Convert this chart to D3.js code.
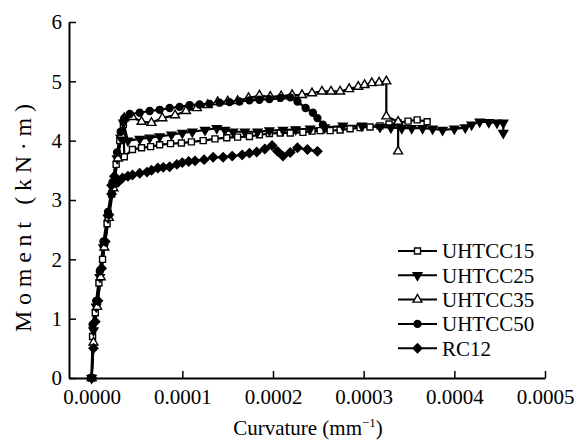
<!DOCTYPE html>
<html>
<head>
<meta charset="utf-8">
<script src="https://cdn.jsdelivr.net/npm/d3@7"></script>
<style>
  body { margin: 0; background: #fff; }
  svg { display: block; font-family: "Liberation Serif", "Times New Roman", serif; }
</style>
</head>
<body>
<div id="chart"></div>
<script>
// curvature (mm^-1) and moment (kN·m)
let uhtcc15Curv = [0, 0.000001, 0.000004, 0.000008, 0.000012, 0.000017, 0.000022, 0.000027, 0.000031, 0.000035, 0.000036, 0.000045, 0.000055, 0.000065, 0.000075, 0.000087, 0.000099, 0.000110, 0.000123, 0.000136, 0.000149, 0.000161, 0.000174, 0.000185, 0.000196, 0.000208, 0.000219, 0.000233, 0.000243, 0.000252, 0.000263, 0.000274, 0.000285, 0.000296, 0.000307, 0.000318, 0.000328, 0.000338, 0.000349, 0.000359, 0.000370];
let uhtcc15Moment = [0, 0.7, 1.1, 1.6, 2.0, 2.6, 3.1, 3.6, 4.0, 4.27, 3.73, 3.85, 3.88, 3.9, 3.93, 3.95, 3.96, 3.98, 4.0, 4.03, 4.05, 4.06, 4.07, 4.1, 4.12, 4.13, 4.13, 4.14, 4.16, 4.17, 4.17, 4.18, 4.2, 4.22, 4.23, 4.25, 4.28, 4.3, 4.33, 4.35, 4.32];

let uhtcc25Curv = [0, 0.000002, 0.000005, 0.000009, 0.000013, 0.000018, 0.000023, 0.000028, 0.000032, 0.000035, 0.000040, 0.000053, 0.000064, 0.000075, 0.000088, 0.000100, 0.000111, 0.000125, 0.000138, 0.000147, 0.000156, 0.000169, 0.000183, 0.000196, 0.000211, 0.000225, 0.000241, 0.000257, 0.000277, 0.000298, 0.000318, 0.000330, 0.000342, 0.000353, 0.000365, 0.000376, 0.000387, 0.000400, 0.000412, 0.000419, 0.000428, 0.000438, 0.000447, 0.000454, 0.000454];
let uhtcc25Moment = [0, 0.8, 1.2, 1.7, 2.2, 2.7, 3.2, 3.7, 4.05, 4.3, 4.0, 4.03, 4.05, 4.07, 4.1, 4.13, 4.15, 4.18, 4.21, 4.18, 4.15, 4.15, 4.15, 4.17, 4.18, 4.19, 4.2, 4.22, 4.25, 4.25, 4.23, 4.22, 4.21, 4.21, 4.21, 4.2, 4.18, 4.2, 4.22, 4.27, 4.32, 4.31, 4.3, 4.3, 4.13];

let uhtcc35Curv = [0, 0.000002, 0.000006, 0.00001, 0.000014, 0.000019, 0.000024, 0.000029, 0.000033, 0.000036, 0.000045, 0.000055, 0.000066, 0.000078, 0.000092, 0.000104, 0.000116, 0.000128, 0.000139, 0.000150, 0.000161, 0.000173, 0.000185, 0.000197, 0.000209, 0.000221, 0.000232, 0.000243, 0.000254, 0.000264, 0.000274, 0.000284, 0.000294, 0.000301, 0.000309, 0.000317, 0.000325, 0.000325, 0.000338, 0.000338];
let uhtcc35Moment = [0, 0.6, 1.2, 1.7, 2.2, 2.7, 3.2, 3.7, 4.1, 4.38, 4.4, 4.32, 4.3, 4.38, 4.43, 4.5, 4.55, 4.6, 4.65, 4.66, 4.67, 4.72, 4.76, 4.74, 4.75, 4.77, 4.77, 4.8, 4.83, 4.83, 4.83, 4.87, 4.91, 4.94, 4.97, 4.98, 5.0, 4.41, 4.32, 3.82];

let uhtcc50Curv = [0, 0.000001, 0.000005, 0.000009, 0.000013, 0.000018, 0.000023, 0.000028, 0.000032, 0.000036, 0.000042, 0.000053, 0.000064, 0.000075, 0.000086, 0.000097, 0.000108, 0.000119, 0.000130, 0.000141, 0.000152, 0.000163, 0.000174, 0.000185, 0.000196, 0.000208, 0.000219, 0.000227, 0.000236, 0.000244, 0.000249, 0.000255];
let uhtcc50Moment = [0, 0.9, 1.3, 1.8, 2.3, 2.8, 3.3, 3.8, 4.15, 4.38, 4.45, 4.47, 4.5, 4.52, 4.55, 4.57, 4.6, 4.61, 4.62, 4.64, 4.65, 4.66, 4.68, 4.69, 4.7, 4.72, 4.73, 4.66, 4.55, 4.47, 4.38, 4.27];

let rc12Curv = [0, 0.000002, 0.000004, 0.000007, 0.000011, 0.000015, 0.000019, 0.000022, 0.000025, 0.000022, 0.000029, 0.000034, 0.000040, 0.000045, 0.000053, 0.000061, 0.000066, 0.000073, 0.000079, 0.000086, 0.000094, 0.000100, 0.000107, 0.000114, 0.000124, 0.000134, 0.000145, 0.000155, 0.000166, 0.000174, 0.000182, 0.000191, 0.000199, 0.000205, 0.000211, 0.000219, 0.000227, 0.000238, 0.000249];
let rc12Moment = [0, 0.5, 0.95, 1.3, 1.85, 2.3, 2.75, 3.1, 3.4, 3.25, 3.3, 3.37, 3.4, 3.42, 3.45, 3.47, 3.5, 3.54, 3.55, 3.56, 3.6, 3.63, 3.65, 3.66, 3.68, 3.72, 3.72, 3.74, 3.76, 3.79, 3.81, 3.86, 3.92, 3.82, 3.74, 3.8, 3.88, 3.85, 3.82];

let seriesNames = ["UHTCC15", "UHTCC25", "UHTCC35", "UHTCC50", "RC12"];
let xTicks = [0, 0.0001, 0.0002, 0.0003, 0.0004, 0.0005];
let yTicks = [0, 1, 2, 3, 4, 5, 6];

function zip(xs, ys) {
    return xs.map(function (x, i) { return { x: x, y: ys[i] }; });
}

let series = [
    { name: seriesNames[0], marker: "square", data: zip(uhtcc15Curv, uhtcc15Moment) },
    { name: seriesNames[1], marker: "down", data: zip(uhtcc25Curv, uhtcc25Moment) },
    { name: seriesNames[2], marker: "up", data: zip(uhtcc35Curv, uhtcc35Moment) },
    { name: seriesNames[3], marker: "circle", data: zip(uhtcc50Curv, uhtcc50Moment) },
    { name: seriesNames[4], marker: "diamond", data: zip(rc12Curv, rc12Moment) }
];

let svg = d3.select("#chart").append("svg")
    .attr("width", 579)
    .attr("height", 443);

let plotLeft = 69, plotRight = 545, plotTop = 22, plotBottom = 378;

let xScale = d3.scaleLinear().domain([-0.000025, 0.0005]).range([plotLeft, plotRight]);
let yScale = d3.scaleLinear().domain([0, 6]).range([plotBottom, plotTop]);

// markers
function markerPath(type) {
    if (type === "square") return d3.symbol().type(d3.symbolSquare).size(36)();
    if (type === "circle") return d3.symbol().type(d3.symbolCircle).size(38)();
    if (type === "diamond") return d3.symbol().type(d3.symbolSquare).size(40)();
    return d3.symbol().type(d3.symbolTriangle).size(34)();
}
function markerTransform(type, x, y) {
    let t = "translate(" + x + "," + y + ")";
    if (type === "down") t += " rotate(180)";
    if (type === "diamond") t += " rotate(45)";
    return t;
}
function markerFill(type) {
    return (type === "square" || type === "up") ? "#fff" : "#000";
}

let line = d3.line()
    .x(function (d) { return xScale(d.x); })
    .y(function (d) { return yScale(d.y); });

let plot = svg.append("g");

series.forEach(function (s) {
    plot.append("path")
        .datum(s.data)
        .attr("fill", "none")
        .attr("stroke", "#000")
        .attr("stroke-width", 2.2)
        .attr("d", line);
});

series.forEach(function (s) {
    plot.selectAll(".m-" + s.name)
        .data(s.data)
        .enter().append("path")
        .attr("d", markerPath(s.marker))
        .attr("transform", function (d) { return markerTransform(s.marker, xScale(d.x), yScale(d.y)); })
        .attr("fill", markerFill(s.marker))
        .attr("stroke", "#000")
        .attr("stroke-width", 1.4);
});

// axes
let xAxis = svg.append("g")
    .attr("transform", "translate(0," + plotBottom + ")")
    .call(d3.axisBottom(xScale).tickValues(xTicks).tickFormat(d3.format(".4f")).tickSizeInner(-7).tickSizeOuter(0));
xAxis.select(".domain").attr("stroke-width", 2);
xAxis.selectAll(".tick line").attr("stroke-width", 1.5);
xAxis.selectAll(".tick text")
    .attr("y", 26)
    .attr("dy", 0)
    .style("font-size", "21px")
    .style("font-family", "Liberation Serif");

let yAxis = svg.append("g")
    .attr("transform", "translate(" + plotLeft + ",0)")
    .call(d3.axisLeft(yScale).tickValues(yTicks).tickFormat(d3.format("d")).tickSizeInner(-7).tickSizeOuter(0));
yAxis.select(".domain").attr("stroke-width", 2);
yAxis.selectAll(".tick line").attr("stroke-width", 1.5);
yAxis.selectAll(".tick text")
    .attr("x", -7)
    .style("font-size", "21px")
    .style("font-family", "Liberation Serif");

// axis titles
let xTitle = svg.append("text")
    .attr("x", 308)
    .attr("y", 435)
    .attr("text-anchor", "middle")
    .style("font-size", "21px")
    .text("Curvature (mm");
xTitle.append("tspan").attr("dy", -8).style("font-size", "13px").text("−1");
xTitle.append("tspan").attr("dy", 8).text(")");

svg.append("text")
    .attr("transform", "translate(31,218) rotate(-90)")
    .attr("text-anchor", "middle")
    .attr("textLength", 228)
    .attr("lengthAdjust", "spacing")
    .style("font-size", "24px")
    .text("Moment (kN·m)");

// legend
let legend = svg.append("g");
series.forEach(function (s, i) {
    let ly = 251 + i * 24.3;
    legend.append("line")
        .attr("x1", 398).attr("x2", 437)
        .attr("y1", ly).attr("y2", ly)
        .attr("stroke", "#000")
        .attr("stroke-width", 2);
    legend.append("path")
        .attr("d", markerPath(s.marker))
        .attr("transform", markerTransform(s.marker, 417.5, ly))
        .attr("fill", markerFill(s.marker))
        .attr("stroke", "#000")
        .attr("stroke-width", 1.4);
    legend.append("text")
        .attr("x", 442)
        .attr("y", ly)
        .attr("dy", "0.35em")
        .style("font-size", "21px")
        .text(s.name);
});
</script>
</body>
</html>
